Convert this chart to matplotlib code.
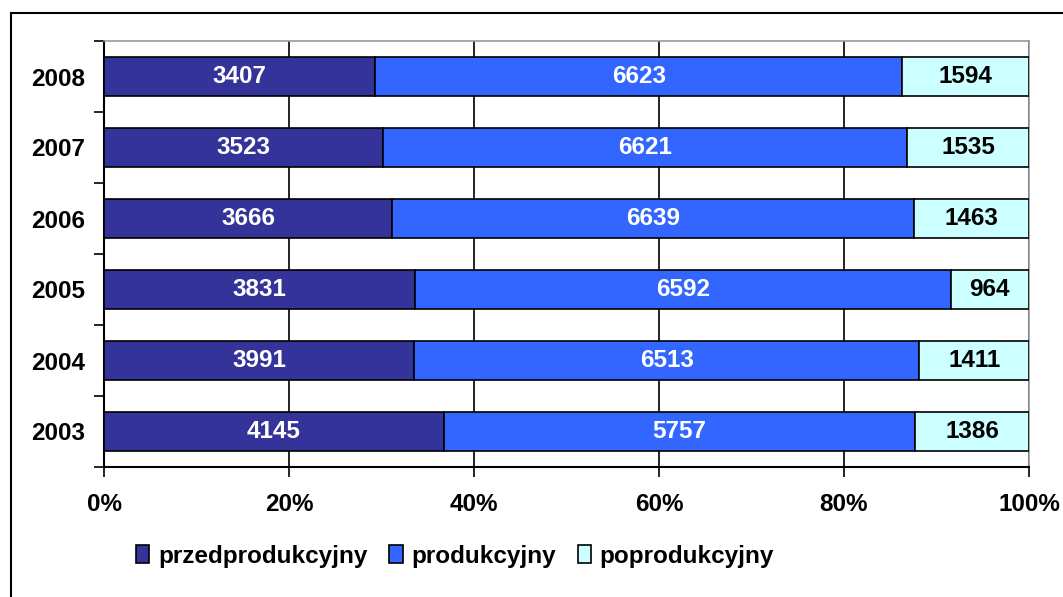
import matplotlib
matplotlib.use('Agg')
import matplotlib.pyplot as plt
import numpy as np
from matplotlib.patches import Rectangle

plt.rcParams['font.family'] = ['Liberation Sans', 'DejaVu Sans']
plt.rcParams['font.weight'] = 'bold'

# dane
lata = ['2003', '2004', '2005', '2006', '2007', '2008']
przedprodukcyjny = [4145, 3991, 3831, 3666, 3523, 3407]
produkcyjny = [5757, 6513, 6592, 6639, 6621, 6623]
poprodukcyjny = [1386, 1411, 964, 1463, 1535, 1594]

nazwy = ['przedprodukcyjny', 'produkcyjny', 'poprodukcyjny']
kolory = ['#333399', '#3366FF', '#CCFFFF']
kolory_tekstu = ['white', 'white', 'black']

serie = np.array([przedprodukcyjny, produkcyjny, poprodukcyjny], dtype=float)
suma = serie.sum(axis=0)
proc = serie / suma * 100

fs = 17.5

fig = plt.figure(figsize=(10.63, 5.97), dpi=100)
ax = fig.add_axes([104/1063, 1 - 467/597, 925/1063, 426/597])

# ramka wykresu
fig.patches.append(Rectangle((11/1063, -0.1), 1.2, 1 - 13/597 + 0.1,
                             transform=fig.transFigure, fill=False,
                             edgecolor='black', linewidth=1.5))

y = np.arange(len(lata))
lewo = np.zeros(len(lata))
for i in range(3):
    ax.barh(y, proc[i], left=lewo, height=0.54, color=kolory[i],
            edgecolor='black', linewidth=1.2, label=nazwy[i], zorder=3)
    for j in range(len(lata)):
        ax.text(lewo[j] + proc[i][j] / 2, y[j], str(int(serie[i][j])),
                ha='center', va='center', color=kolory_tekstu[i],
                fontsize=fs, fontweight='bold', zorder=4)
    lewo = lewo + proc[i]

ax.set_xlim(0, 100)
ax.set_ylim(-0.5, len(lata) - 0.5)
ax.set_xticks(np.arange(0, 101, 20))
ax.set_xticklabels([f'{v}%' for v in range(0, 101, 20)])
ax.set_yticks(y)
ax.set_yticklabels(lata)
ax.set_yticks(np.arange(-0.5, len(lata)), minor=True)
ax.tick_params(axis='y', which='major', length=0, pad=13.5, labelsize=fs)
ax.tick_params(axis='y', which='minor', length=7, width=1.2)
ax.tick_params(axis='x', length=7, width=1.2, pad=12, labelsize=fs)
for t in ax.get_xticklabels() + ax.get_yticklabels():
    t.set_fontweight('bold')

ax.grid(axis='x', color='black', linewidth=1.2, zorder=0)
ax.spines['left'].set_linewidth(1.5)
ax.spines['bottom'].set_linewidth(1.5)
ax.spines['top'].set_color('#999999')
ax.spines['right'].set_color('#999999')
ax.spines['top'].set_linewidth(1.2)
ax.spines['right'].set_linewidth(1.2)

leg = fig.legend(loc='center', bbox_to_anchor=(455/1063, 1 - 556/597), ncol=3,
                 frameon=False, handlelength=0.55, handleheight=0.75,
                 handletextpad=0.35, columnspacing=0.9,
                 prop={'weight': 'bold', 'size': fs})

fig.savefig('out.png', dpi=100)
